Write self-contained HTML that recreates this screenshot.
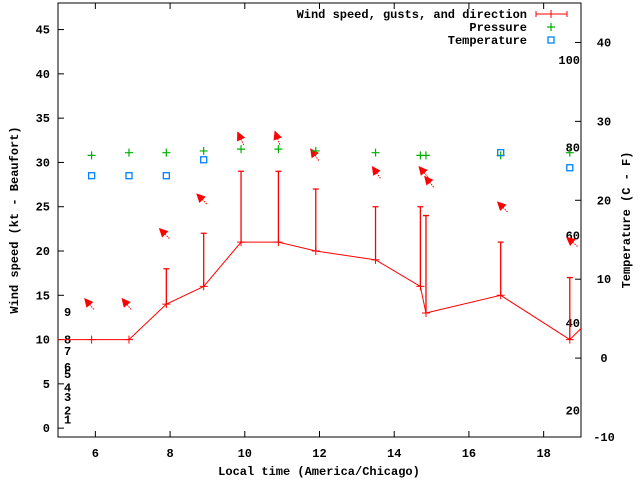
<!DOCTYPE html>
<html><head><meta charset="utf-8"><style>
html,body{margin:0;padding:0;background:#fff}
svg{display:block}
text{font-family:"Liberation Mono",monospace;font-weight:bold;font-size:12px;fill:#000}
</style></head><body>
<svg id="c" width="640" height="480" xmlns="http://www.w3.org/2000/svg"></svg>
<script>
const times=[4.9,5.9,6.9,7.9,8.9,9.9,10.9,11.9,13.5,14.7,14.85,16.85,18.7,19.3];
const speeds=[10,10,10,14,16,21,21,20,19,16,13,15,10,12.5];
const gusts=[null,null,null,18,22,29,29,27,25,25,24,21,17,null];
const pressTimes=[5.9,6.9,7.9,8.9,9.9,10.9,11.9,13.5,14.7,14.85,16.85,18.7];
const pressure=[30.8,31.1,31.1,31.3,31.5,31.5,31.3,31.1,30.8,30.8,30.8,31.1];
const tempTimes=[5.9,6.9,7.9,8.9,16.85,18.7];
const temps=[28.5,28.5,28.5,30.3,31.1,29.4];
const arrowTimes=[5.7,6.7,7.7,8.7,9.8,10.8,11.75,13.4,14.65,14.8,16.75,18.6];
const arrowVals=[14.7,14.7,22.6,26.5,33.5,33.6,31.6,29.6,29.6,28.5,25.6,21.6];
const arrowDirs=[130,130,135,135,115,110,125,125,130,130,135,140];
const xTicks=[6,8,10,12,14,16,18];
const yTicks=[0,5,10,15,20,25,30,35,40,45];
const y2Ticks=[-10,0,10,20,30,40];
const beaufortLabels=["1","2","3","4","5","6","7","8","9"];
const beaufortVals=[1,2,3.5,4.6,6.1,6.9,8.7,10,13.1];
const fLabels=["20","40","60","80","100"];
const fVals=[20,40,60,80,100];

const L=58,R=581,T=3,B=437;
const X=t=>L+(t-5)/(19-5)*(R-L);
const Y=v=>B-(v+1)/(48+1)*(B-T);
const Y2=v=>B-(v+10)/(45+10)*(B-T);
const F2C=f=>(f-32)*5/9;
const svg=document.getElementById('c');
const NS='http://www.w3.org/2000/svg';
function mk(tag,attrs,parent,name){const e=document.createElementNS(NS,tag);for(const k in attrs)e.setAttribute(k,attrs[k]);


(parent||svg).appendChild(e);return e;}
function txt(s,x,y,anchor,name,extra){const e=mk('text',Object.assign({x:x,y:y,'text-anchor':anchor},extra||{}),svg,name);e.textContent=s;return e;}

// clip
const defs=mk('defs',{},svg,'defs');
const cp=mk('clipPath',{id:'pc'},defs,'plot-clip');
mk('rect',{x:L,y:T,width:R-L,height:B-T},cp,'plot-clip-rect');

// axes
mk('rect',{x:L,y:T,width:R-L,height:B-T,fill:'none',stroke:'#000','stroke-width':1},svg,'plot-frame');
xTicks.forEach(t=>{const x=X(t);
mk('line',{x1:x,y1:B,x2:x,y2:B-6,stroke:'#000'},svg,'x-tick');
mk('line',{x1:x,y1:T,x2:x,y2:T+6,stroke:'#000'},svg,'x-tick-top');
txt(String(t),x,457,'middle','x-tick-label');});
yTicks.forEach(v=>{const y=Y(v);
mk('line',{x1:L,y1:y,x2:L+6,y2:y,stroke:'#000'},svg,'y-tick');
txt(String(v),50,y+4,'end','y-tick-label');});
y2Ticks.forEach(v=>{const y=Y2(v);
mk('line',{x1:R,y1:y,x2:R-6,y2:y,stroke:'#000'},svg,'y2-tick');
txt(String(v),604,y+4,'middle','y2-tick-label');});
beaufortLabels.forEach((s,i)=>txt(s,64,Y(beaufortVals[i])+4,'start','beaufort-label'));
fLabels.forEach((s,i)=>txt(s,580,Y2(F2C(fVals[i]))+4,'end','fahrenheit-label'));

txt('Local time (America/Chicago)',319,475,'middle','x-axis-title');
txt('Wind speed (kt - Beaufort)',18,220,'middle','y-axis-title',{transform:'rotate(-90 18 220)'});
txt('Temperature (C - F)',630,220,'middle','y2-axis-title',{transform:'rotate(-90 630 220)'});

const g=mk('g',{'clip-path':'url(#pc)'},svg,'plot-series');
// wind line
mk('polyline',{points:times.map((t,i)=>X(t)+','+Y(speeds[i])).join(' '),fill:'none',stroke:'#f00','stroke-width':1},g,'wind-speed-line');
times.forEach((t,i)=>{const x=X(t),y=Y(speeds[i]);
mk('path',{d:`M${x-4},${y}H${x+4}M${x},${y-4}V${y+4}`,stroke:'#f00'},g,'wind-speed-point');
if(gusts[i]!==null){const gy=Y(gusts[i]);
mk('path',{d:`M${x},${y}V${gy}M${x-3},${gy}H${x+3}`,stroke:'#f00','stroke-width':1.3},g,'wind-gust-bar');}});
// arrows
arrowTimes.forEach((t,i)=>{const hx=X(t),hy=Y(arrowVals[i]);const a=arrowDirs[i]*Math.PI/180;
const dx=Math.cos(a),dy=-Math.sin(a);const len=15;const tx=hx-dx*len,ty=hy-dy*len;
mk('line',{x1:tx,y1:ty,x2:hx,y2:hy,stroke:'#f00','stroke-dasharray':'1.5,1'},g,'wind-direction-arrow');
const px=-dy,py=dx,hl=9,hw=4.5;
mk('polygon',{points:`${hx},${hy} ${hx-dx*hl+px*hw},${hy-dy*hl+py*hw} ${hx-dx*hl-px*hw},${hy-dy*hl-py*hw}`,fill:'#f00'},g,'wind-direction-arrowhead');});
// pressure
pressTimes.forEach((t,i)=>{const x=X(t),y=Y(pressure[i]);
mk('path',{d:`M${x-4},${y}H${x+4}M${x},${y-4}V${y+4}`,stroke:'#00b000','stroke-width':1.2},g,'pressure-point');});
// temperature
tempTimes.forEach((t,i)=>{const x=X(t),y=Y(temps[i]);
mk('rect',{x:x-3,y:y-3,width:6,height:6,fill:'none',stroke:'#0080ff','stroke-width':1.3},g,'temperature-point');});

// legend
txt('Wind speed, gusts, and direction',527,18,'end','legend-wind-label');
mk('path',{d:'M536,14H567M536,11V17M567,11V17M551,10V18',stroke:'#f00'},svg,'legend-wind-sample');
txt('Pressure',527,31,'end','legend-pressure-label');
mk('path',{d:'M547,27H555M551,23V31',stroke:'#00b000','stroke-width':1.2},svg,'legend-pressure-sample');
txt('Temperature',527,44,'end','legend-temperature-label');
mk('rect',{x:548,y:37,width:6,height:6,fill:'none',stroke:'#0080ff','stroke-width':1.3},svg,'legend-temperature-sample');
</script>
</body></html>
